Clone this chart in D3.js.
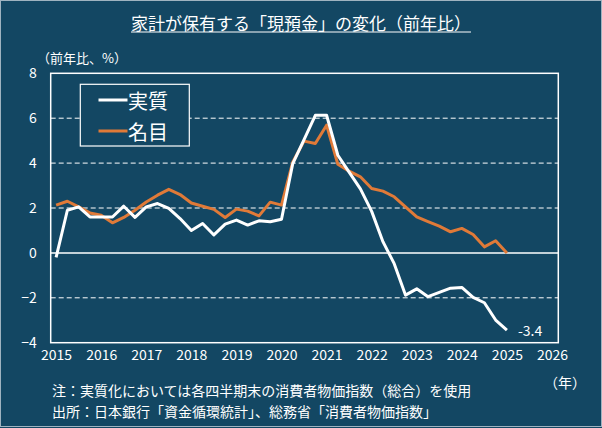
<!DOCTYPE html>
<html>
<head>
<meta charset="utf-8">
<script src="https://cdn.jsdelivr.net/npm/d3@7"></script>
<style>
  html, body { margin: 0; padding: 0; background: #134763; }
  svg { display: block; }
  text { font-family: "Noto Sans CJK JP", "Noto Sans", sans-serif; fill: #ffffff; }
</style>
</head>
<body>
<svg id="chart" width="602" height="428"></svg>
<script>
// quarterly, 2015Q1 .. 2025Q1 (前年比, %)
var startYear = 2015
var realValues = [
	-0.2, 1.9, 2.05, 1.6,
	1.6, 1.6, 2.08, 1.58,
	2.05, 2.2, 1.98, 1.53,
	1.0, 1.31, 0.8, 1.28,
	1.46, 1.24, 1.43, 1.39,
	1.5, 3.98, 5.05, 6.13,
	6.13, 4.35, 3.6, 2.85,
	1.85, 0.5, -0.48, -1.88,
	-1.6, -1.95, -1.76, -1.57,
	-1.54, -1.98, -2.22, -2.99,
	-3.44
]
var nominalValues = [
	2.13, 2.3, 2.05, 1.78,
	1.68, 1.34, 1.58, 1.9,
	2.27, 2.57, 2.83, 2.6,
	2.22, 2.08, 1.94, 1.58,
	1.95, 1.86, 1.65, 2.26,
	2.13, 4.05, 4.98, 4.87,
	5.69, 3.95, 3.64, 3.39,
	2.87, 2.75, 2.5, 2.05,
	1.6, 1.39, 1.19, 0.94,
	1.09, 0.82, 0.27, 0.54,
	0.0
]
var yearTicks = [2015, 2016, 2017, 2018, 2019, 2020, 2021, 2022, 2023, 2024, 2025, 2026]
var valueTicks = [-4, -2, 0, 2, 4, 6, 8]
var seriesNames = ['実質', '名目']
var seriesColors = ['#ffffff', '#e07a38']
var lastLabel = '-3.4'

var titleText = '家計が保有する「現預金」の変化（前年比）'
var yUnitText = '（前年比、%）'
var xUnitText = '（年）'
var notes = [
	'注：実質化においては各四半期末の消費者物価指数（総合）を使用',
	'出所：日本銀行「資金循環統計」、総務省「消費者物価指数」'
]

var svg = d3.select('#chart')

// light frame on the picture edge
svg.append('rect')
	.attr('x', 0.5).attr('y', 0.5)
	.attr('width', 601).attr('height', 426)
	.attr('fill', '#134763')
	.attr('stroke', '#9fb3c0')
	.attr('stroke-width', 1)

var plot = { left: 50.7, right: 558.3, top: 73.3, bottom: 342.7 }

var x = d3.scaleLinear().domain([2014.88, 2026.14]).range([plot.left, plot.right])
var y = d3.scaleLinear().domain([-4, 8]).range([plot.bottom, plot.top])

var times = realValues.map((d, i) => startYear + i / 4)

// title with underline
var title = svg.append('text')
	.attr('x', 301).attr('y', 22)
	.attr('text-anchor', 'middle')
	.attr('dominant-baseline', 'central')
	.attr('font-size', 17)
	.text(titleText)
var tw = title.node().getComputedTextLength()
svg.append('line')
	.attr('x1', 301 - tw / 2).attr('x2', 301 + tw / 2)
	.attr('y1', 32).attr('y2', 32)
	.attr('stroke', '#ffffff').attr('stroke-width', 1)

svg.append('text')
	.attr('x', 37).attr('y', 57)
	.attr('dominant-baseline', 'central')
	.attr('font-size', 13)
	.text(yUnitText)

// gridlines
var grid = svg.append('g')
grid.selectAll('line')
	.data(valueTicks.filter(v => v > -4 && v < 8 && v !== 0))
	.join('line')
	.attr('x1', plot.left).attr('x2', plot.right)
	.attr('y1', d => y(d)).attr('y2', d => y(d))
	.attr('stroke', '#ffffff')
	.attr('stroke-width', 1)
	.attr('stroke-dasharray', '5,3')

svg.append('line')
	.attr('x1', plot.left).attr('x2', plot.right)
	.attr('y1', y(0)).attr('y2', y(0))
	.attr('stroke', '#ffffff').attr('stroke-width', 1.5)

svg.append('rect')
	.attr('x', plot.left).attr('y', plot.top)
	.attr('width', plot.right - plot.left).attr('height', plot.bottom - plot.top)
	.attr('fill', 'none')
	.attr('stroke', '#ffffff').attr('stroke-width', 1.5)

// axes
var yAxis = svg.append('g')
	.attr('transform', `translate(${plot.left - 14},0)`)
	.call(d3.axisLeft(y).tickValues(valueTicks).tickSize(0).tickPadding(0))
yAxis.select('.domain').remove()
yAxis.selectAll('text')
	.attr('font-size', 14)
	.attr('fill', '#ffffff')
	.attr('font-family', '"Noto Sans CJK JP", sans-serif')

var xAxis = svg.append('g')
	.attr('transform', `translate(0,${plot.bottom})`)
	.call(d3.axisBottom(x).tickValues(yearTicks).tickFormat(d3.format('d')).tickSize(0).tickPadding(7))
xAxis.select('.domain').remove()
xAxis.selectAll('text')
	.attr('font-size', 14)
	.attr('fill', '#ffffff')
	.attr('font-family', '"Noto Sans CJK JP", sans-serif')

svg.append('text')
	.attr('x', 565).attr('y', 382)
	.attr('text-anchor', 'middle')
	.attr('dominant-baseline', 'central')
	.attr('font-size', 14)
	.text(xUnitText)

// lines (nominal under real)
var line = d3.line()
	.x((d, i) => x(times[i]))
	.y(d => y(d))

svg.append('path')
	.datum(nominalValues)
	.attr('d', line)
	.attr('fill', 'none')
	.attr('stroke', seriesColors[1])
	.attr('stroke-width', 3)
	.attr('stroke-linejoin', 'round')

svg.append('path')
	.datum(realValues)
	.attr('d', line)
	.attr('fill', 'none')
	.attr('stroke', seriesColors[0])
	.attr('stroke-width', 3)
	.attr('stroke-linejoin', 'round')

svg.append('text')
	.attr('x', x(times[times.length - 1]) + 11)
	.attr('y', y(realValues[realValues.length - 1]))
	.attr('dominant-baseline', 'central')
	.attr('font-size', 14)
	.text(lastLabel)

// legend
var legend = svg.append('g')
legend.append('rect')
	.attr('x', 80.3).attr('y', 84.3)
	.attr('width', 109).attr('height', 61.7)
	.attr('fill', '#134763')
	.attr('stroke', '#ffffff').attr('stroke-width', 1.2)

seriesNames.forEach((name, i) => {
	var ly = 100 + i * 31
	legend.append('line')
		.attr('x1', 98.5).attr('x2', 127.5)
		.attr('y1', ly).attr('y2', ly)
		.attr('stroke', seriesColors[i]).attr('stroke-width', 3)
	legend.append('text')
		.attr('x', 128).attr('y', ly)
		.attr('dominant-baseline', 'central')
		.attr('font-size', 20)
		.text(name)
})

// notes
notes.forEach((t, i) => {
	svg.append('text')
		.attr('x', 52).attr('y', 390 + i * 21)
		.attr('dominant-baseline', 'central')
		.attr('font-size', 14)
		.text(t)
})
</script>
</body>
</html>
